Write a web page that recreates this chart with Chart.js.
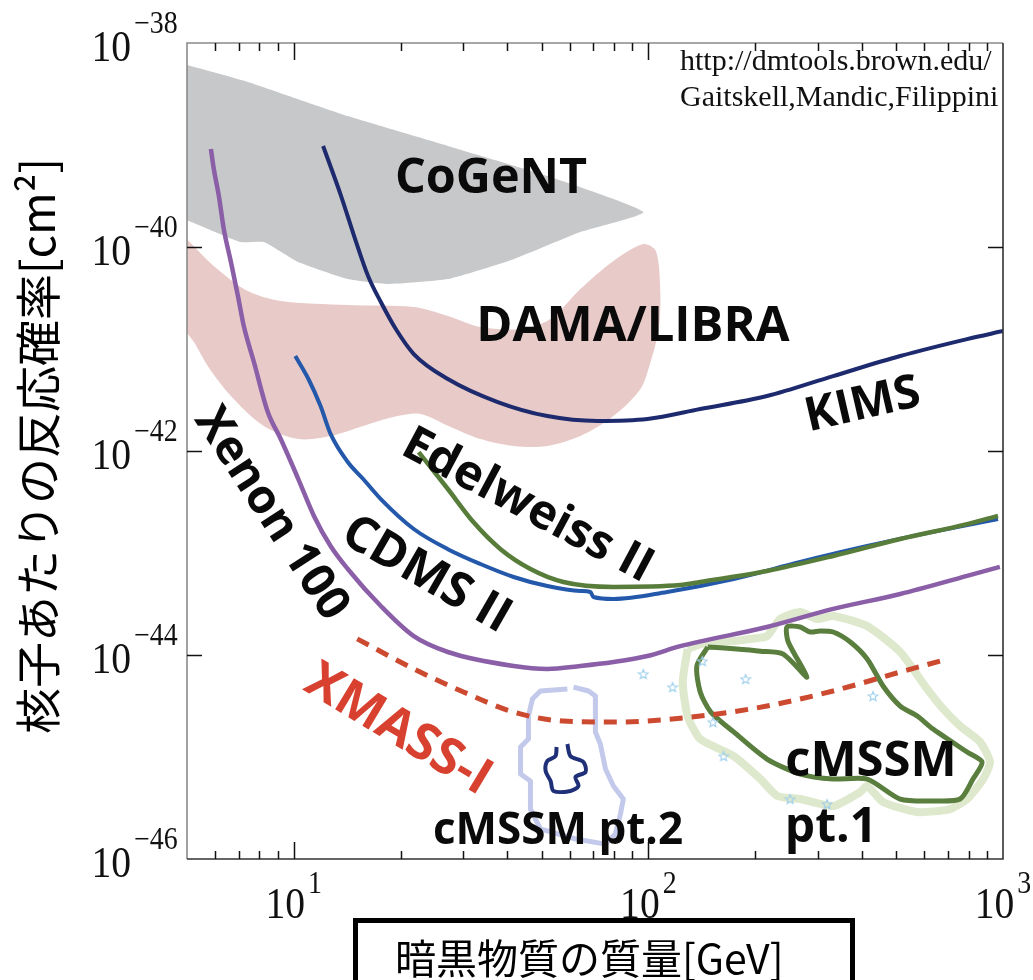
<!DOCTYPE html>
<html><head><meta charset="utf-8">
<script src="https://cdn.jsdelivr.net/npm/chart.js@4.4.1/dist/chart.umd.min.js"></script>
<style>html,body{margin:0;padding:0;background:#fff;}#wrap{position:relative;width:1033px;height:980px;}canvas{display:block;}</style>
</head><body><div id="wrap"><canvas id="c" width="1033" height="980"></canvas></div>
<script>
// ---- data (WIMP mass in GeV, cross-section in cm^2) ----
const cogentMass  = [4.9, 7.42, 14.2, 27.2, 51.9, 96.8, 64.3, 41.7, 27.2, 18.4, 14.2, 10.3, 8.23, 7.09, 5.47, 4.9];
const cogentSigma = [6.2e-39, 4.15e-39, 1.92e-39, 9.8e-40, 4.97e-40, 2.2e-40, 1.40e-40, 7.6e-41, 4.85e-41, 4.34e-41, 4.85e-41, 7.13e-41, 1.12e-40, 1.12e-40, 1.61e-40, 1.88e-40];

const damaMass  = [4.9, 5.95, 7.42, 9.19, 14.2, 21.8, 27.2, 33.6, 43.6, 53.0, 64.3, 79.7, 96.8, 105, 108, 107, 101, 95.0, 79.7, 64.3, 51.9, 41.7, 33.6, 27.7, 22.8, 19.6, 15.7, 12.7, 10.3, 8.23, 6.65, 5.72, 5.23, 4.9];
const damaSigma = [1.28e-40, 6.52e-41, 3.7e-41, 2.96e-41, 2.7e-41, 2.58e-41, 2.11e-41, 1.64e-41, 1.57e-41, 1.97e-41, 3.87e-41, 7.3e-41, 1.07e-40, 9.14e-41, 3.87e-41, 1.57e-41, 7.13e-42, 4.06e-42, 2.2e-42, 1.40e-42, 1.12e-42, 1.12e-42, 1.31e-42, 1.72e-42, 2.31e-42, 2.2e-42, 1.76e-42, 1.40e-42, 1.31e-42, 1.76e-42, 3.46e-42, 6.81e-42, 1.17e-41, 1.57e-41];

const kimsMass  = [12.1, 13.6, 14.8, 16.2, 17.6, 19.4, 21.8, 27.2, 37.6, 51.9, 71.8, 99.4, 140, 216, 332, 513, 792, 1000];
const kimsSigma = [9.77e-40, 3.16e-40, 1.28e-40, 5.2e-41, 2.89e-41, 1.57e-41, 8.93e-42, 5.08e-42, 3.02e-42, 2.2e-42, 1.97e-42, 2.06e-42, 2.58e-42, 3.46e-42, 5.43e-42, 8.53e-42, 1.25e-41, 1.5e-41];

const xenonMass  = [5.84, 5.95, 6.15, 6.35, 6.65, 6.96, 7.23, 7.72, 8.45, 9.19, 10.3, 11.4, 12.7, 14.2, 17.6, 21.8, 27.2, 41.7, 51.9, 64.3, 79.7, 99.4, 123, 216, 332, 513, 792, 980];
const xenonSigma = [9.14e-40, 5.82e-40, 3.16e-40, 1.5e-40, 7.13e-41, 3.31e-41, 1.68e-41, 7.46e-42, 2.41e-42, 1.31e-42, 5.31e-43, 2.31e-43, 1.17e-43, 6.97e-44, 3.02e-44, 1.53e-44, 1.07e-44, 7.8e-45, 7.3e-45, 7.8e-45, 8.53e-45, 9.77e-45, 1.22e-44, 1.88e-44, 2.83e-44, 3.96e-44, 5.96e-44, 7.3e-44];

const cdmsMass  = [10.1, 11.0, 11.9, 12.7, 14.2, 15.7, 17.6, 21.8, 27.2, 33.6, 41.7, 51.9, 64.3, 68.6, 70.0, 79.7, 113, 174, 268, 414, 635, 968];
const cdmsSigma = [8.53e-42, 5.08e-42, 2.76e-42, 1.47e-42, 7.8e-43, 5.31e-43, 3.38e-43, 1.72e-43, 1.09e-43, 7.8e-44, 5.82e-44, 4.74e-44, 4.24e-44, 4.15e-44, 3.7e-44, 3.54e-44, 4.15e-44, 5.56e-44, 8.17e-44, 1.17e-43, 1.61e-43, 2.15e-43];

const edelMass  = [22.5, 27.2, 32.1, 38.3, 46.5, 57.6, 79.7, 123, 140, 216, 332, 513, 792, 968];
const edelSigma = [9.77e-43, 4.24e-43, 2.01e-43, 1.09e-43, 6.97e-44, 5.2e-44, 4.65e-44, 4.85e-44, 5.2e-44, 6.67e-44, 9.35e-44, 1.37e-43, 1.92e-43, 2.31e-43];

const xmassMass  = [15.1, 21.8, 30.1, 41.7, 57.6, 79.7, 140, 216, 332, 513, 665];
const xmassSigma = [1.44e-44, 7.3e-45, 4.34e-45, 2.76e-45, 2.25e-45, 2.2e-45, 2.52e-45, 3.16e-45, 4.44e-45, 6.81e-45, 8.73e-45];

const pt2OuterMass  = [61.5, 67.8, 70.9, 70.9, 73.2, 75.7, 79.7, 85.0, 83.4, 80.7, 75.7, 62.3, 49.6, 46.5, 46.5, 43.6, 43.6, 45.9, 45.9, 47.1, 49.6, 59.1];
const pt2OuterSigma = [4.85e-45, 4.44e-45, 3.96e-45, 1.76e-45, 1.34e-45, 7.62e-46, 5.2e-46, 3.87e-46, 2.76e-46, 1.76e-46, 1.40e-46, 1.57e-46, 1.97e-46, 3.09e-46, 5.82e-46, 6.81e-46, 1.25e-45, 1.5e-45, 2.52e-45, 3.7e-45, 4.44e-45, 4.65e-45];

const pt2InnerMass  = [59.1, 60.3, 65.6, 66.5, 62.3, 63.5, 60.3, 54.0, 53.0, 51.3, 51.9, 54.7, 55.1];
const pt2InnerSigma = [1.34e-45, 1.02e-45, 8.93e-46, 7.13e-46, 6.37e-46, 5.2e-46, 4.65e-46, 4.65e-46, 5.82e-46, 7.3e-46, 9.14e-46, 1.02e-45, 1.25e-45];

const pt1OuterMass  = [129, 125, 129, 140, 174, 207, 231, 268, 332, 396, 414, 459, 573, 709, 792, 879, 919, 862, 757, 678, 611, 513, 414, 332, 299, 268, 235, 216, 194, 174, 147, 129];
const pt1OuterSigma = [1.15e-44, 5.43e-45, 2.52e-45, 1.5e-45, 1.02e-45, 6.08e-46, 4.15e-46, 3.87e-46, 3.31e-46, 4.54e-46, 5.2e-46, 3.62e-46, 2.89e-46, 3.09e-46, 3.87e-46, 6.08e-46, 8.93e-46, 1.40e-45, 2.01e-45, 2.96e-45, 4.65e-45, 1.07e-44, 1.92e-44, 2.41e-44, 2.25e-44, 2.64e-44, 2.25e-44, 1.53e-44, 1.44e-44, 1.37e-44, 1.34e-44, 1.15e-44];

const pt1InnerMass  = [147, 174, 207, 240, 280, 248, 246, 268, 286, 305, 332, 371, 414, 459, 513, 573, 635, 792, 873, 823, 757, 635, 513, 414, 332, 268, 216, 174, 150, 140, 137, 147];
const pt1InnerSigma = [1.2e-44, 1.15e-44, 1.09e-44, 1.02e-44, 6.08e-45, 1.34e-44, 1.88e-44, 1.88e-44, 1.68e-44, 1.72e-44, 1.68e-44, 1.34e-44, 9.14e-45, 4.97e-45, 3.16e-45, 2.52e-45, 1.88e-45, 1.12e-45, 8.93e-46, 6.08e-46, 3.87e-46, 3.71e-46, 3.87e-46, 6.08e-46, 6.08e-46, 6.81e-46, 9.55e-46, 1.76e-45, 2.76e-45, 4.34e-45, 7.8e-45, 1.2e-44];

const starMass  = [96.8, 117, 142, 188, 152, 163, 251, 319, 430];
const starSigma = [6.52e-45, 4.85e-45, 8.73e-45, 5.82e-45, 2.2e-45, 1.02e-45, 3.87e-46, 3.46e-46, 3.96e-45];

const xTickValues = [10, 100, 1000];
const xTickExponents = ['1', '2', '3'];
const xMinorTicks = [6,7,8,9,20,30,40,50,60,70,80,90,200,300,400,500,600,700,800,900];
const yTickValues = [1e-38, 1e-40, 1e-42, 1e-44, 1e-46];
const yTickExponents = ['\u221238', '\u221240', '\u221242', '\u221244', '\u221246'];
const yInnerTicks = [1e-40, 1e-42, 1e-44];

const xTitle = '暗黒物質の質量[GeV]';
const yTitle = '核子あたりの反応確率[cm²]';
const creditLines = ['http://dmtools.brown.edu/', 'Gaitskell,Mandic,Filippini'];

function pts(m, s) { return m.map((v, i) => ({x: v, y: s[i]})); }

// small hollow star marker
const starImg = (function () {
  const c = document.createElement('canvas'); c.width = 12; c.height = 12;
  const g = c.getContext('2d');
  g.strokeStyle = '#9fd0ec'; g.lineWidth = 1.1; g.beginPath();
  for (let i = 0; i < 10; i++) {
    const r = i % 2 ? 2.2 : 5, ang = -Math.PI / 2 + i * Math.PI / 5;
    const px = 6 + r * Math.cos(ang), py = 6.5 + r * Math.sin(ang);
    if (i) g.lineTo(px, py); else g.moveTo(px, py);
  }
  g.closePath(); g.stroke();
  return c;
})();

const LABEL_FONT = '"Open Sans", "DejaVu Sans", sans-serif';
const annotations = [
  {t: 'CoGeNT', x: 491, y: 176, s: 48.5, a: 0, c: '#0a0a0a'},
  {t: 'DAMA/LIBRA', x: 633, y: 324, s: 49, a: 0, c: '#0a0a0a'},
  {t: 'KIMS', x: 862, y: 402, s: 47, a: -13, c: '#0a0a0a'},
  {t: 'Edelweiss II', x: 529, y: 503, s: 48, a: 28, c: '#0a0a0a'},
  {t: 'CDMS II', x: 428, y: 572, s: 49, a: 30, c: '#0a0a0a'},
  {t: 'Xenon 100', x: 274, y: 512, s: 47, a: 57, c: '#0a0a0a'},
  {t: 'XMASS-I', x: 400, y: 727, s: 51, a: 31, c: '#d8412f'},
  {t: 'cMSSM pt.2', x: 558, y: 828, s: 44, a: 0, c: '#0a0a0a'},
  {t: 'cMSSM', x: 871, y: 759, s: 49, a: 0, c: '#0a0a0a'},
  {t: 'pt.1', x: 831, y: 825, s: 48, a: 0, c: '#0a0a0a'}
];

const decor = {
  id: 'decor',
  afterDatasetsDraw(chart) {
    const ctx = chart.ctx, a = chart.chartArea, xs = chart.scales.x, ys = chart.scales.y;
    ctx.save();
    for (const l of annotations) {
      ctx.save();
      ctx.translate(l.x, l.y);
      ctx.rotate(l.a * Math.PI / 180);
      ctx.font = '700 ' + l.s + 'px ' + LABEL_FONT;
      ctx.fillStyle = l.c;
      ctx.textAlign = 'center';
      ctx.textBaseline = 'alphabetic';
      ctx.fillText(l.t, 0, l.s * 0.357);
      ctx.restore();
    }
    ctx.save();
    ctx.beginPath(); ctx.rect(a.left, a.top, a.right - a.left, a.bottom - a.top); ctx.clip();
    ctx.font = '30px "Liberation Serif", serif';
    ctx.fillStyle = '#111';
    ctx.textAlign = 'left'; ctx.textBaseline = 'alphabetic';
    ctx.fillText(creditLines[0], 680, 70);
    ctx.fillText(creditLines[1], 680, 106);
    ctx.restore();
    ctx.lineWidth = 1.6;
    ctx.strokeStyle = '#8a8a8a';
    ctx.beginPath();
    ctx.moveTo(a.left, a.bottom); ctx.lineTo(a.left, a.top); ctx.lineTo(a.right, a.top);
    ctx.stroke();
    ctx.strokeStyle = '#333';
    ctx.beginPath();
    ctx.moveTo(a.left, a.bottom); ctx.lineTo(a.right, a.bottom); ctx.lineTo(a.right, a.top);
    ctx.stroke();
    ctx.strokeStyle = '#111'; ctx.lineWidth = 1.5;
    ctx.beginPath();
    for (const v of xMinorTicks) {
      const px = Math.round(xs.getPixelForValue(v)) + 0.5;
      ctx.moveTo(px, a.bottom); ctx.lineTo(px, a.bottom - 8);
      ctx.moveTo(px, a.top); ctx.lineTo(px, a.top + 8);
    }
    for (const v of xTickValues) {
      const px = Math.round(xs.getPixelForValue(v)) + 0.5;
      if (px > a.right - 2) continue;
      ctx.moveTo(px, a.bottom); ctx.lineTo(px, a.bottom - 17);
      ctx.moveTo(px, a.top); ctx.lineTo(px, a.top + 17);
    }
    for (const v of yInnerTicks) {
      const py = Math.round(ys.getPixelForValue(v)) + 0.5;
      ctx.moveTo(a.left, py); ctx.lineTo(a.left + 15, py);
      ctx.moveTo(a.right, py); ctx.lineTo(a.right - 15, py);
    }
    ctx.stroke();
    const SX = 0.9;
    const bigFont = '44px "Liberation Serif", serif';
    const supFont = '31px "Liberation Serif", serif';
    ctx.fillStyle = '#111';
    ctx.textBaseline = 'alphabetic';
    yTickValues.forEach((v, i) => {
      const py = ys.getPixelForValue(v);
      ctx.save(); ctx.translate(131, py + 18); ctx.scale(SX, 1);
      ctx.font = bigFont; ctx.textAlign = 'right'; ctx.fillText('10', 0, 0);
      ctx.restore();
      ctx.save(); ctx.translate(134, py - 10); ctx.scale(SX, 1);
      ctx.font = supFont; ctx.textAlign = 'left'; ctx.fillText(yTickExponents[i], 0, 0);
      ctx.restore();
    });
    xTickValues.forEach((v, i) => {
      const px = xs.getPixelForValue(v);
      ctx.font = bigFont; const w1 = ctx.measureText('10').width * SX;
      ctx.font = supFont; const w2 = ctx.measureText(xTickExponents[i]).width * SX;
      const start = px - (w1 + 3 + w2) / 2;
      ctx.save(); ctx.translate(start, 918); ctx.scale(SX, 1);
      ctx.font = bigFont; ctx.textAlign = 'left'; ctx.fillText('10', 0, 0);
      ctx.restore();
      ctx.save(); ctx.translate(start + w1 + 3, 893); ctx.scale(SX, 1);
      ctx.font = supFont; ctx.textAlign = 'left'; ctx.fillText(xTickExponents[i], 0, 0);
      ctx.restore();
    });
    ctx.save();
    ctx.translate(38, 446); ctx.rotate(-Math.PI / 2);
    ctx.font = '46px "Noto Sans CJK JP", sans-serif';
    ctx.fillStyle = '#000'; ctx.textAlign = 'center'; ctx.textBaseline = 'middle';
    ctx.fillText(yTitle, 0, 0);
    ctx.restore();
    ctx.lineWidth = 5; ctx.strokeStyle = '#000';
    ctx.strokeRect(355.5, 920.5, 497, 100);
    ctx.font = '41px "Noto Sans CJK JP", sans-serif';
    ctx.fillStyle = '#000'; ctx.textAlign = 'left'; ctx.textBaseline = 'middle';
    ctx.fillText(xTitle, 395, 958);
    ctx.restore();
  }
};

function lineSet(label, m, s, color, width, order, extra) {
  return Object.assign({
    label, data: pts(m, s), borderColor: color, backgroundColor: color,
    borderWidth: width, pointRadius: 0, fill: false, order,
    borderJoinStyle: 'round', borderCapStyle: 'butt', tension: 0.3
  }, extra || {});
}

const datasets = [
  lineSet('CoGeNT', cogentMass, cogentSigma, '#c7c8ca', 0, 20, {fill: 'shape', backgroundColor: '#c7c8ca', tension: 0.15}),
  lineSet('DAMA/LIBRA', damaMass, damaSigma, '#e8cbc8', 0, 19, {fill: 'shape', backgroundColor: '#e8cbc8', tension: 0.3}),
  lineSet('cMSSM pt.1 outer', pt1OuterMass, pt1OuterSigma, '#dde8cc', 8, 15, {tension: 0.2}),
  lineSet('cMSSM pt.2 outer', pt2OuterMass, pt2OuterSigma, '#c3c9ea', 5, 14, {tension: 0}),
  lineSet('cMSSM pt.1', pt1InnerMass, pt1InnerSigma, '#5a7e3d', 5, 13, {tension: 0.25}),
  lineSet('cMSSM pt.2', pt2InnerMass, pt2InnerSigma, '#1f2f78', 4, 12, {tension: 0.3}),
  {label: 'points', data: pts(starMass, starSigma), showLine: false, pointStyle: starImg, pointRadius: 5,
   borderColor: '#9fd0ec', backgroundColor: '#9fd0ec', order: 11},
  lineSet('XMASS-I', xmassMass, xmassSigma, '#cc4a30', 5, 10, {borderDash: [13, 9], cubicInterpolationMode: 'monotone'}),
  lineSet('CDMS II', cdmsMass, cdmsSigma, '#2358aa', 4, 9, {cubicInterpolationMode: 'monotone'}),
  lineSet('Edelweiss II', edelMass, edelSigma, '#587d3b', 4.5, 8, {cubicInterpolationMode: 'monotone'}),
  lineSet('Xenon 100', xenonMass, xenonSigma, '#8b5fa8', 4.5, 7, {cubicInterpolationMode: 'monotone'}),
  lineSet('KIMS', kimsMass, kimsSigma, '#1e2a6e', 4, 6, {cubicInterpolationMode: 'monotone'})
];

const chart = new Chart(document.getElementById('c'), {
  type: 'line',
  data: {datasets},
  options: {
    responsive: false, animation: false, devicePixelRatio: 1,
    events: [],
    layout: {padding: {left: 187, top: 43, right: 30, bottom: 121}},
    plugins: {legend: {display: false}, tooltip: {enabled: false}},
    scales: {
      x: {type: 'logarithmic', min: 5, max: 1000, display: false},
      y: {type: 'logarithmic', min: 1e-46, max: 1e-38, display: false}
    }
  },
  plugins: [decor]
});
if (document.fonts && document.fonts.ready) document.fonts.ready.then(() => chart.draw());
</script></body></html>
